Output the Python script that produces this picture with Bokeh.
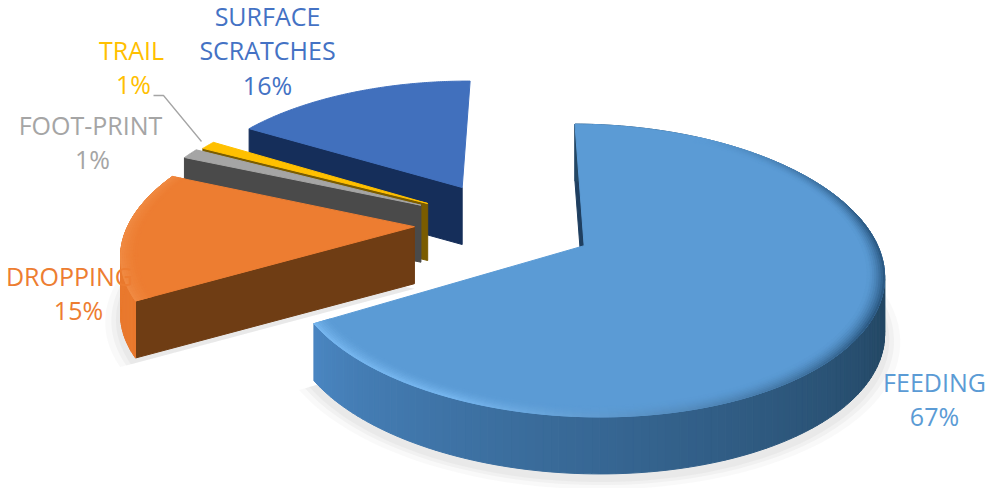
from math import sin, cos, radians
from bokeh.plotting import figure
from bokeh.models import ColumnDataSource
from bokeh.core.properties import value
from bokeh.embed import file_html
from bokeh.resources import INLINE

# ---- data
categories = ["FEEDING", "DROPPING", "FOOT-PRINT", "TRAIL", "SURFACE SCRATCHES"]
shares = [66.5, 14.8, 1.2, 1.0, 16.5]
top_colors = ["#5b9bd5", "#ed7d31", "#a5a5a5", "#ffc000", "#4170bd"]
side_colors = ["#2a5580", "#6f3d14", "#4a4a4a", "#7a5c00", "#152e5a"]
text_colors = ["#5b9bd5", "#ed7d31", "#a5a5a5", "#ffc000", "#4472c4"]
explosion = [0.31, 0.318, 0.335, 0.32, 0.325]

# ---- projection of the tilted pie
CX, CY, AX, AY, PERSP = 505.0, 223.6, 286.0, 135.0, 0.165
DEPTH, START = 57.0, 0.5
TEXT_DY = -12


def proj(u, v, drop=0.0):
    d = 1 - PERSP * v
    return CX + AX * u / d, CY + AY * v / d + drop


def lerp(c1, c2, f):
    f = max(0.0, min(1.0, f))
    a = [int(c1[i:i + 2], 16) for i in (1, 3, 5)]
    b = [int(c2[i:i + 2], 16) for i in (1, 3, 5)]
    return "#%02x%02x%02x" % tuple(round(x + (y - x) * f) for x, y in zip(a, b))


p = figure(width=992, height=488, x_range=(0, 992), y_range=(488, 0),
           output_backend="svg", toolbar_location=None, min_border=0)
p.axis.visible = False
p.grid.visible = False
p.outline_line_color = None

spans = []
a = START
for s in shares:
    spans.append((a, a + s * 3.6))
    a += s * 3.6


def pt(i, th, r=1.0, drop=0.0):
    a0, a1 = spans[i]
    m = radians((a0 + a1) / 2)
    t = radians(th)
    e = explosion[i]
    return proj(e * sin(m) + r * sin(t), -e * cos(m) - r * cos(t), drop)


def arc(i, n=120, r=1.0, drop=0.0):
    a0, a1 = spans[i]
    return [pt(i, a0 + (a1 - a0) * k / n, r, drop) for k in range(n + 1)]


def add(polys, colors, alpha=1.0, line=True):
    src = ColumnDataSource(dict(xs=[[q[0] for q in P] for P in polys],
                                ys=[[q[1] for q in P] for P in polys],
                                c=colors))
    p.patches("xs", "ys", source=src, fill_color="c", fill_alpha=alpha,
              line_color="c" if line else None, line_alpha=alpha, line_width=1)


def wall_colour(i, th):
    if i == 0:  # feeding: bright left, dark right
        f = max(0.0, (240 - th) / 130)
        return lerp("#4a86c2", "#234764", f ** 0.9)
    return "#e9792e"


def rim_colour(i, th):
    if i == 0:
        return lerp("#76b6ef", "#2c5a84", (205 - th) / 85)
    return "#f08a42"


def draw(i):
    a0, a1 = spans[i]
    # soft shadow
    if i in (0, 1):
        for grow, al in ((1.05, .10), (1.03, .14), (1.015, .18)):
            P = arc(i, 90, grow, DEPTH + 5)
            P = P + [pt(i, a0, 0, DEPTH + 5)]
            add([P], ["#c8c8c8"], al, line=False)
    # radial side wall of the first edge
    o = pt(i, a0)
    c = pt(i, a0, 0)
    add([[c, o, (o[0], o[1] + DEPTH), (c[0], c[1] + DEPTH)]], [side_colors[i] if i != 0 else "#1f3f60"])
    # outer wall, only where it faces the viewer
    if i in (0, 1):
        n = 180 if i == 0 else 60
        polys, cols = [], []
        for k in range(n):
            t0 = a0 + (a1 - a0) * k / n
            t1 = a0 + (a1 - a0) * (k + 1) / n
            A, B = pt(i, t0), pt(i, t1)
            polys.append([A, B, (B[0], B[1] + DEPTH), (A[0], A[1] + DEPTH)])
            cols.append(wall_colour(i, (t0 + t1) / 2))
        add(polys, cols)
    # top
    add([arc(i) + [pt(i, a0, 0)]], [top_colors[i]])
    # bevel along the outer edge
    if i in (0, 1):
        steps = 8
        for s in range(steps):
            r1 = 1.0 - s * 0.007
            r0 = r1 - 0.007
            w = (1 - s / steps) ** 1.6
            polys, cols = [], []
            n = 160 if i == 0 else 40
            for k in range(n):
                t0 = a0 + (a1 - a0) * k / n
                t1 = a0 + (a1 - a0) * (k + 1) / n
                if i == 0 and t1 < 30:
                    continue
                polys.append([pt(i, t0, r0), pt(i, t1, r0), pt(i, t1, r1), pt(i, t0, r1)])
                fade = 1.0 if i else min(1.0, (t0 - 30) / 50)
                cols.append(lerp(top_colors[i], rim_colour(i, (t0 + t1) / 2), w * fade))
            add(polys, cols)


for i in (4, 3, 2, 1, 0):
    draw(i)

# leader line of the TRAIL label
p.line([153, 163, 201], [95, 95, 141], line_color="#a5a5a5", line_width=1.3)

# ---- labels, one line per glyph call
label_lines = [
    (0, "FEEDING", 934, 393), (0, "67%", 934, 427),
    (1, "DROPPING", 69, 287), (1, "15%", 78, 321),
    (2, "FOOT-PRINT", 90, 136), (2, "1%", 92, 170),
    (3, "TRAIL", 131, 61), (3, "1%", 133, 95),
    (4, "SURFACE", 267, 27), (4, "SCRATCHES", 267, 61), (4, "16%", 267, 96),
]
for idx, txt, x, y in label_lines:
    p.text([x], [y + TEXT_DY], text=[txt], text_color=text_colors[idx], text_font=value("Open Sans"),
           text_font_size="25px", text_align="center", text_baseline="alphabetic")

open("out.html", "w").write(file_html(p, INLINE))
